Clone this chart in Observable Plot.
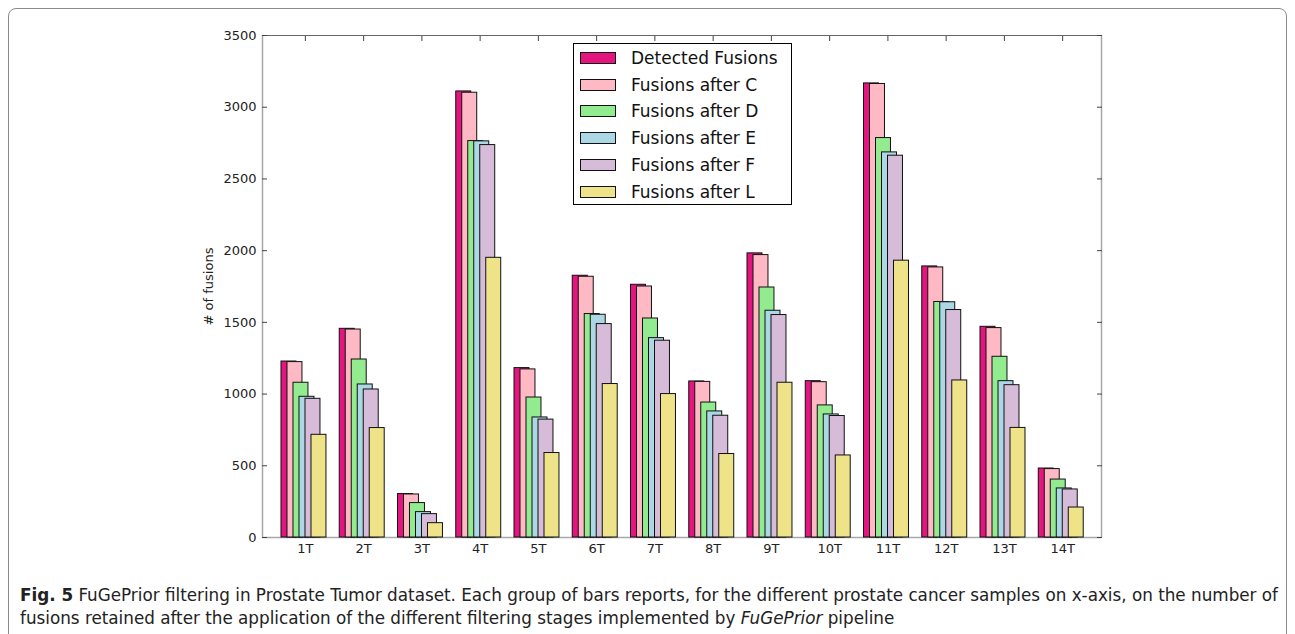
<!DOCTYPE html>
<html>
<head>
<meta charset="utf-8">
<script src="https://cdn.jsdelivr.net/npm/d3@7"></script>
<script src="https://cdn.jsdelivr.net/npm/@observablehq/plot@0.6"></script>
<style>
  html, body { margin: 0; padding: 0; background: #fff; }
  body { width: 1295px; height: 634px; position: relative; overflow: hidden; }
  #box { position: absolute; left: 8px; top: 8px; width: 1277px; height: 660px; border: 1px solid #8a8a8a; border-radius: 8px; }
  #chart { position: absolute; left: 0; top: 0; }
  #legend { position: absolute; left: 573px; top: 43px; width: 219px; height: 162px; border: 1px solid #000; background: #fff; box-sizing: border-box; font-family: "DejaVu Sans", sans-serif; font-size: 17px; color: #111; }
  .row { position: absolute; left: 6px; height: 20px; display: flex; align-items: center; }
  .sw { width: 36px; height: 12px; border: 1px solid #111; box-sizing: border-box; margin-right: 15px; }
  #caption { position: absolute; left: 20px; top: 584px; font-family: "Liberation Sans Narrow", "DejaVu Sans Condensed", "Roboto Condensed", "Open Sans", sans-serif; font-size: 17px; color: #222; transform-origin: 0 0; white-space: nowrap; }
  #caption div { line-height: 23px; }
</style>
</head>
<body>
<div id="box"></div>
<div id="chart"></div>
<div id="legend"></div>
<div id="caption"><div id="cap1"><b>Fig. 5</b> FuGePrior filtering in Prostate Tumor dataset. Each group of bars reports, for the different prostate cancer samples on x-axis, on the number of</div><div>fusions retained after the application of the different filtering stages implemented by <i>FuGePrior</i> pipeline</div></div>
<script>
const samples = ["1T","2T","3T","4T","5T","6T","7T","8T","9T","10T","11T","12T","13T","14T"];
const seriesNames = ["Detected Fusions","Fusions after C","Fusions after D","Fusions after E","Fusions after F","Fusions after L"];
const seriesColors = ["#e5157f","#ffb9c4","#92ec8f","#acd8e6","#d6bcd8","#efe38a"];
const detected = [1227, 1455, 303, 3110, 1181, 1825, 1762, 1088, 1981, 1090, 3166, 1890, 1469, 481];
const afterC   = [1223, 1450, 300, 3101, 1172, 1818, 1750, 1085, 1969, 1083, 3162, 1883, 1460, 477];
const afterD   = [1079, 1241, 240, 2764,  976, 1558, 1527,  941, 1743,  921, 2785, 1642, 1260, 404];
const afterE   = [ 981, 1067, 177, 2762,  837, 1553, 1390,  879, 1581,  858, 2685, 1640, 1090, 342];
const afterF   = [ 967, 1032, 163, 2736,  822, 1488, 1372,  849, 1551,  847, 2662, 1586, 1062, 335];
const afterL   = [ 716,  763, 100, 1950,  589, 1070, 1000,  582, 1079,  572, 1930, 1095,  764, 209];
const yTicks = [0, 500, 1000, 1500, 2000, 2500, 3000, 3500];
const yLabel = "# of fusions";

const seriesValues = [detected, afterC, afterD, afterE, afterF, afterL];
const step = 0.103, barW = 0.257, tickPos = 0.41;
const xDomain = [-0.326, 14.077];
const rows = [];
seriesValues.forEach((vals, k) => vals.forEach((v, i) => rows.push({i, k, v, s: seriesNames[k]})));
const xt = samples.map((_, i) => i + tickPos);
const xLabel = new Map(samples.map((s, i) => [i + tickPos, s]));

const chart = Plot.plot({
  width: 1295, height: 560,
  marginLeft: 262, marginRight: 194, marginTop: 35, marginBottom: 23,
  style: {fontFamily: "DejaVu Sans, sans-serif", fontSize: "13px", color: "#222", background: "transparent"},
  x: {domain: xDomain, axis: null},
  y: {domain: [0, 3500], axis: null},
  color: {domain: seriesNames, range: seriesColors},
  marks: [
    Plot.ruleY([0], {stroke: "#a8a8a8", strokeWidth: 1.5}),
    Plot.ruleX([xDomain[0]], {stroke: "#a8a8a8", strokeWidth: 1.5}),
    Plot.ruleX([xDomain[1]], {stroke: "#a8a8a8", strokeWidth: 1.5}),
    Plot.ruleY([3500], {stroke: "#666", strokeWidth: 1.2}),
    Plot.rectY(rows, {x1: d => d.i + d.k * step, x2: d => d.i + d.k * step + barW, y1: 0, y2: "v", fill: "s", stroke: "#111", strokeWidth: 1, insetLeft: 0, insetRight: 0}),
    Plot.axisY({ticks: yTicks, anchor: "left", tickSize: 0, tickPadding: 6, tickFormat: d => String(d), label: null, fontSize: 13}),
    Plot.text([yLabel], {frameAnchor: "left", text: d => d, rotate: -90, dx: -54, textAnchor: "middle", fontSize: 13, fill: "#222"}),
    Plot.axisY({ticks: yTicks, anchor: "left", tickSize: 5, dx: 5, text: null, label: null, stroke: "#444"}),
    Plot.axisY({ticks: yTicks, anchor: "right", tickSize: 5, dx: -5, text: null, label: null, stroke: "#444"}),
    Plot.axisX({ticks: xt, anchor: "bottom", tickSize: 0, tickPadding: 6, tickFormat: d => xLabel.get(d), label: null, fontSize: 13}),
    Plot.axisX({ticks: xt, anchor: "top", tickSize: 5, dy: 5, text: null, label: null, stroke: "#444"})
  ]
});
document.getElementById("chart").appendChild(chart);

const legend = document.getElementById("legend");
seriesNames.forEach((name, k) => {
  const r = document.createElement("div");
  r.className = "row";
  r.style.top = (4 + k * 26.7) + "px";
  r.innerHTML = `<div class="sw" style="background:${seriesColors[k]}"></div><span>${name}</span>`;
  legend.appendChild(r);
});

const cap = document.getElementById("caption");
const w = document.getElementById("cap1").getBoundingClientRect().width;
const target = 1258;
cap.style.transform = `scaleX(${target / w})`;
</script>
</body>
</html>
